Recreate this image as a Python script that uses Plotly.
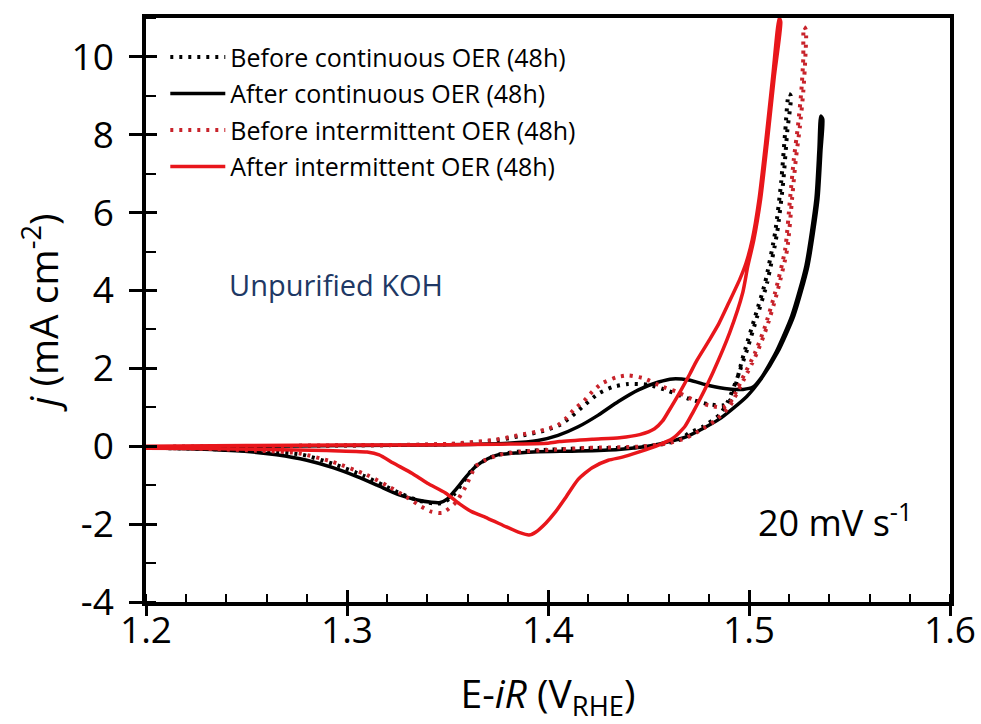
import plotly.graph_objects as go

# ---------------- data ----------------
# Before continuous OER (48h) - black dotted
bc_E = [1.200, 1.250, 1.300, 1.350, 1.370, 1.385, 1.398, 1.406, 1.412, 1.418, 1.425, 1.432,
        1.440, 1.450, 1.460, 1.470, 1.480, 1.487, 1.491, 1.4935, 1.4965, 1.4981, 1.5031, 1.508,
        1.513, 1.516, 1.518, 1.5198,
        1.5208, 1.519, 1.517, 1.514, 1.509, 1.5041, 1.4991, 1.4944, 1.4895, 1.4854, 1.477,
        1.4705, 1.4655, 1.4555, 1.440, 1.420, 1.400, 1.385, 1.375, 1.369, 1.363,
        1.358, 1.353, 1.348, 1.343, 1.336, 1.327, 1.318, 1.308, 1.293, 1.278, 1.260, 1.230, 1.200]
bc_j = [-0.02, 0.00, 0.02, 0.05, 0.12, 0.25, 0.40, 0.55, 0.78, 1.05, 1.35, 1.52,
        1.60, 1.58, 1.42, 1.22, 1.08, 1.05, 1.20, 1.60, 2.20, 2.49, 3.34, 4.20,
        5.49, 6.78, 8.07, 9.05,
        9.00, 8.07, 6.78, 5.49, 4.20, 3.34, 2.49, 1.79, 1.15, 0.81, 0.50,
        0.35, 0.17, 0.04, -0.04, -0.05, -0.09, -0.14, -0.22, -0.35, -0.55,
        -0.90, -1.25, -1.45, -1.47, -1.40, -1.22, -1.00, -0.75, -0.45, -0.22, -0.13, -0.07, -0.04]

# After continuous OER (48h) - black solid
ac_E = [1.200, 1.250, 1.300, 1.350, 1.380, 1.395, 1.405, 1.415, 1.425, 1.435, 1.445, 1.455,
        1.462, 1.470, 1.480, 1.490, 1.497, 1.502, 1.506, 1.5135, 1.5213, 1.5283, 1.5333,
        1.5348, 1.5357,
        1.5367, 1.5358, 1.5343, 1.5293, 1.5223, 1.5143, 1.5059, 1.4989, 1.485, 1.469, 1.452,
        1.435, 1.415, 1.395, 1.385, 1.375, 1.370, 1.364, 1.359, 1.354, 1.350, 1.346, 1.342,
        1.335, 1.326, 1.315, 1.305, 1.293, 1.280, 1.265, 1.249, 1.225, 1.200]
ac_j = [-0.02, 0.00, 0.02, 0.04, 0.08, 0.15, 0.28, 0.50, 0.80, 1.15, 1.45, 1.65,
        1.73, 1.70, 1.56, 1.47, 1.46, 1.52, 1.75, 2.42, 3.35, 4.63, 6.35,
        7.63, 8.48,
        8.40, 7.60, 6.35, 4.63, 3.35, 2.42, 1.72, 1.28, 0.69, 0.25, 0.02,
        -0.08, -0.12, -0.14, -0.17, -0.22, -0.32, -0.52, -0.80, -1.12, -1.35, -1.45, -1.44,
        -1.38, -1.25, -1.00, -0.78, -0.55, -0.36, -0.22, -0.13, -0.07, -0.04]

# Before intermittent OER (48h) - red dotted
bi_E = [1.200, 1.250, 1.300, 1.350, 1.374, 1.386, 1.394, 1.400, 1.405, 1.409, 1.413, 1.418,
        1.422, 1.427, 1.434, 1.440, 1.448, 1.456, 1.464, 1.472, 1.480, 1.487, 1.491, 1.4964,
        1.503, 1.508, 1.513, 1.518, 1.5205, 1.5223, 1.5243, 1.526, 1.527, 1.5273,
        1.5283, 1.528, 1.527, 1.5253, 1.5233, 1.5215, 1.519, 1.514, 1.509, 1.504, 1.4974,
        1.490, 1.483, 1.4755, 1.469, 1.460, 1.445, 1.420, 1.402, 1.386, 1.376, 1.369, 1.364,
        1.359, 1.354, 1.3475, 1.342, 1.337, 1.3295, 1.321, 1.3096, 1.2927, 1.276, 1.258,
        1.226, 1.200]
bi_j = [-0.02, 0.00, 0.02, 0.06, 0.17, 0.29, 0.37, 0.45, 0.55, 0.72, 0.95, 1.17,
        1.40, 1.62, 1.77, 1.82, 1.74, 1.55, 1.40, 1.20, 1.05, 1.00, 1.15, 1.71,
        2.40, 3.08, 3.95, 5.06, 6.40, 7.37, 8.20, 9.10, 9.95, 10.77,
        10.70, 9.95, 9.10, 8.20, 7.37, 6.40, 5.06, 3.95, 3.08, 2.40, 1.71,
        1.00, 0.65, 0.40, 0.22, 0.08, -0.01, -0.04, -0.09, -0.14, -0.22, -0.35, -0.52,
        -1.04, -1.45, -1.71, -1.68, -1.55, -1.30, -1.04, -0.73, -0.40, -0.18, -0.12,
        -0.06, -0.04]

# After intermittent OER (48h) - red solid
ai_E = [1.200, 1.250, 1.300, 1.350, 1.400, 1.4057, 1.422, 1.4356, 1.4456, 1.453, 1.457, 1.460,
        1.4655, 1.4705, 1.474, 1.4804, 1.485, 1.490, 1.4955, 1.4985, 1.5016, 1.505, 1.5083,
        1.5118, 1.5150,
        1.5158, 1.5126, 1.5091, 1.5058, 1.5024, 1.4993, 1.4969, 1.4904, 1.482, 1.4755, 1.472,
        1.468, 1.462, 1.455, 1.445, 1.437, 1.430, 1.422, 1.415, 1.409, 1.4035, 1.399, 1.394,
        1.3905, 1.386, 1.3793, 1.370, 1.362, 1.356, 1.349, 1.340, 1.3325, 1.323, 1.316,
        1.310, 1.290, 1.260, 1.230, 1.200]
ai_j = [0.00, 0.02, 0.03, 0.04, 0.08, 0.12, 0.18, 0.22, 0.30, 0.45, 0.65, 0.90,
        1.38, 1.85, 2.20, 2.74, 3.15, 3.69, 4.30, 4.70, 5.30, 6.35, 7.81,
        9.50, 11.00,
        10.90, 9.50, 7.81, 6.35, 5.30, 4.60, 3.95, 2.92, 1.89, 1.20, 0.86,
        0.50, 0.20, 0.03, -0.15, -0.28, -0.36, -0.55, -0.85, -1.30, -1.70, -1.97, -2.20,
        -2.28, -2.22, -2.07, -1.85, -1.68, -1.48, -1.20, -0.95, -0.70, -0.43, -0.22,
        -0.15, -0.11, -0.08, -0.06, -0.05]

names = ["Before continuous OER (48h)", "After continuous OER (48h)",
         "Before intermittent OER (48h)", "After intermittent OER (48h)"]

x_ticks = [1.2, 1.3, 1.4, 1.5, 1.6]
y_ticks = [-4, -2, 0, 2, 4, 6, 8, 10]

FONT = "Open Sans"

fig = go.Figure()

series = [
    (ac_E, ac_j, names[1], dict(color="black", width=3.5), 2),
    (bc_E, bc_j, names[0], dict(color="black", width=4, dash="3px,6px"), 1),
    (bi_E, bi_j, names[2], dict(color="#C8232B", width=4, dash="3px,6px"), 3),
    (ai_E, ai_j, names[3], dict(color="#E8161B", width=3.5), 4),
]
for E, j, nm, ln, rank in series:
    fig.add_trace(go.Scatter(x=E, y=j, mode="lines", name=nm,
                             line=dict(shape="spline", smoothing=0.6, **ln),
                             legendrank=rank, legendgroup=nm))

# empty trace to host the overlay axes (inner half of crossing major ticks)
fig.add_trace(go.Scatter(x=[], y=[], xaxis="x2", yaxis="y2", showlegend=False, hoverinfo="skip"))

axis_common = dict(showgrid=False, zeroline=False, color="black", automargin=False)

fig.update_layout(
    width=981, height=724,
    margin=dict(l=146, r=31, t=18, b=122, autoexpand=False),
    paper_bgcolor="white", plot_bgcolor="white",
    font=dict(family=FONT, color="black"),
    xaxis=dict(range=[1.2, 1.6], tickvals=x_ticks, ticktext=[f"{v:.1f}" for v in x_ticks],
               ticks="outside", ticklen=10, tickwidth=2.5, tickcolor="black",
               showline=True, linewidth=3.5, linecolor="black", mirror=True,
               minor=dict(ticks="inside", dtick=0.02, tick0=1.2, ticklen=8, tickwidth=2, tickcolor="black"),
               tickfont=dict(size=37, family=FONT), ticklabelstandoff=-17,
               title=dict(text="E-<i>iR</i> (V<sub>RHE</sub>)", font=dict(size=39, family=FONT), standoff=44),
               **axis_common),
    yaxis=dict(range=[-4, 11], tickvals=y_ticks, ticktext=[str(v) for v in y_ticks],
               ticks="outside", ticklen=13, tickwidth=2.5, tickcolor="black",
               showline=True, linewidth=3.5, linecolor="black", mirror=True,
               minor=dict(ticks="inside", dtick=1, tick0=-4, ticklen=10, tickwidth=2, tickcolor="black"),
               tickfont=dict(size=37, family=FONT), ticklabelstandoff=8,
               title=dict(text="<i>j</i> (mA cm<sup>-2</sup>)", font=dict(size=39, family=FONT), standoff=2),
               **axis_common),
    xaxis2=dict(range=[1.2, 1.6], overlaying="x", anchor="y", side="bottom", tickvals=x_ticks,
                ticks="inside", ticklen=12, tickwidth=2.5, tickcolor="black",
                showticklabels=False, showline=False, **axis_common),
    yaxis2=dict(range=[-4, 11], overlaying="y", anchor="x", side="left", tickvals=y_ticks,
                ticks="inside", ticklen=11, tickwidth=2.5, tickcolor="black",
                showticklabels=False, showline=False, **axis_common),
    legend=dict(x=0.024, y=0.972, xanchor="left", yanchor="top", bgcolor="rgba(0,0,0,0)",
                font=dict(size=25, family=FONT), itemwidth=55, tracegroupgap=1,
                traceorder="grouped"),
    showlegend=True,
    annotations=[
        dict(x=1.2946, y=4.16, xref="x", yref="y", text="Unpurified KOH", showarrow=False,
             font=dict(size=29, color="#203864", family=FONT)),
        dict(x=1.5427, y=-1.91, xref="x", yref="y", text="20 mV s<sup>-1</sup>", showarrow=False,
             font=dict(size=36, color="black", family=FONT)),
    ],
)

fig.write_html("out.html")
